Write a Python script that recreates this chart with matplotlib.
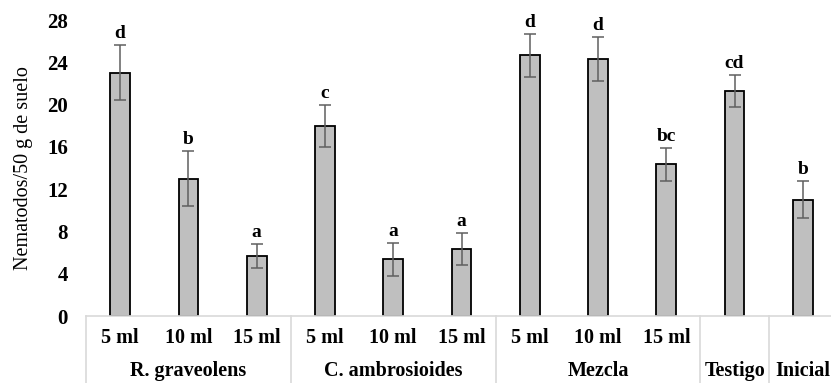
import matplotlib.pyplot as plt
import matplotlib.transforms as mtransforms
import numpy as np

plt.rcParams['font.family'] = ['Liberation Serif', 'DejaVu Serif']

doses = ["5 ml", "10 ml", "15 ml", "5 ml", "10 ml", "15 ml", "5 ml", "10 ml", "15 ml", "", ""]
groups = ["R. graveolens", "C. ambrosioides", "Mezcla", "Testigo", "Inicial"]
group_sizes = [3, 3, 3, 1, 1]
means = [23.0, 13.0, 5.7, 18.0, 5.35, 6.35, 24.65, 24.3, 14.35, 21.3, 11.0]
errors = [2.6, 2.6, 1.15, 2.0, 1.55, 1.5, 2.05, 2.1, 1.55, 1.5, 1.75]
letters = ["d", "b", "a", "c", "a", "a", "d", "d", "bc", "cd", "b"]
yticks = [0, 4, 8, 12, 16, 20, 24, 28]

fig = plt.figure(figsize=(8.31, 3.83), dpi=100)
ax = fig.add_axes([86 / 831, 67 / 383, 751 / 831, 296 / 383])

x = np.arange(len(means))
ax.bar(x, means, width=0.29, color="#bfbfbf", edgecolor="black", linewidth=1.3, zorder=2)
ax.errorbar(x, means, yerr=errors, fmt="none", ecolor="#5f5f5f", elinewidth=1.1,
            capsize=4, capthick=1.1, zorder=3)

for xi, m, e, lab in zip(x, means, errors, letters):
    ax.annotate(lab, (xi, m + e), xytext=(0, 5), textcoords="offset points",
                ha="center", va="baseline", fontsize=14, fontweight="bold")

ax.set_xlim(-0.5, len(means) - 0.5)
ax.set_ylim(0, 28)
ax.set_yticks(yticks)
ax.set_yticklabels([str(t) for t in yticks], fontsize=15, fontweight="bold")
ax.tick_params(axis="y", length=0, pad=13)
ax.set_xticks([])
for s in ["left", "right", "top"]:
    ax.spines[s].set_visible(False)
ax.spines["bottom"].set_color("#d9d9d9")
ax.spines["bottom"].set_linewidth(1.2)

ax.set_ylabel("Nematodos/50 g de suelo", fontsize=14.5, labelpad=10)

trans = mtransforms.blended_transform_factory(ax.transData, ax.transAxes)
for xi, d in zip(x, doses):
    if d:
        ax.text(xi, -0.076, d, transform=trans, ha="center", va="center",
                fontsize=14.5, fontweight="bold")

start = 0
bounds = [-0.5]
for g, n in zip(groups, group_sizes):
    center = start + (n - 1) / 2
    ax.text(center, -0.219, g, transform=trans, ha="center", va="bottom",
            fontsize=14.5, fontweight="bold")
    start += n
    bounds.append(start - 0.5)

for b in bounds[:-1]:
    ax.plot([b, b], [0, -0.3], transform=trans, color="#d9d9d9", linewidth=1.2,
            clip_on=False)

fig.savefig("out.png", dpi=100)
